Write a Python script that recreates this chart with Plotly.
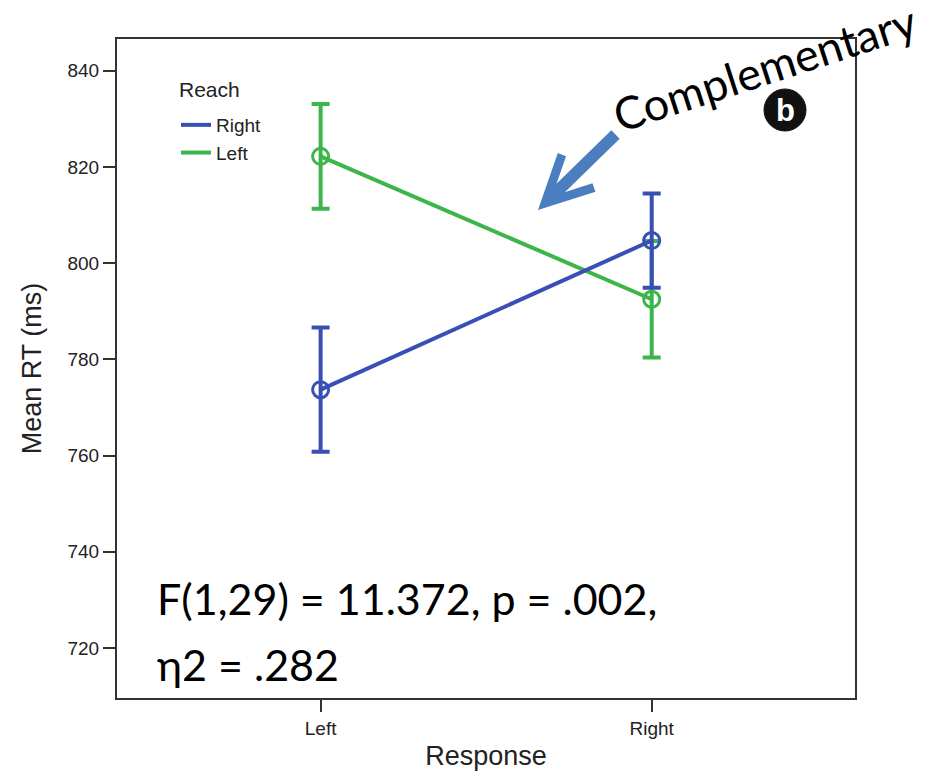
import plotly.graph_objects as go

# Response side on the x axis, reach hand as the series
responses = ["Left", "Right"]
reach_labels = ["Right", "Left"]
rt_reach_right = [773.7, 804.7]
se_reach_right = [12.9, 9.8]
rt_reach_left = [822.2, 792.5]
se_reach_left = [10.9, 12.1]
y_ticks = [720, 740, 760, 780, 800, 820, 840]

BLUE = "#3a4fb6"
GREEN = "#3cb54a"
AXIS_FONT = "Liberation Sans, Arial, sans-serif"
NOTE_FONT = "Lato, Open Sans, sans-serif"

W, H = 925, 771
L, R, T, B = 117, 70, 39, 73
PW, PH = W - L - R, H - T - B


def px(xp):
    return (xp - L) / PW


def py(yp):
    return (H - B - yp) / PH


fig = go.Figure()

series = [
    (reach_labels[1], rt_reach_left, se_reach_left, GREEN),
    (reach_labels[0], rt_reach_right, se_reach_right, BLUE),
]
# green (left reach) first so the blue series sits on top
for name, means, errs, color in series:
    fig.add_trace(go.Scatter(
        x=responses, y=means, name=name, mode="lines+markers", showlegend=False,
        line=dict(color=color, width=4),
        marker=dict(symbol="circle-open", size=16, color=color, line=dict(width=3, color=color)),
        error_y=dict(type="data", array=errs, visible=True, color=color, thickness=4, width=9),
    ))

# line-only legend keys
for name, color in [(reach_labels[0], BLUE), (reach_labels[1], GREEN)]:
    fig.add_trace(go.Scatter(x=[None], y=[None], name=name, mode="lines",
                             line=dict(color=color, width=4), showlegend=True))

axis_common = dict(
    showline=True, linecolor="#333333", linewidth=2, mirror=True,
    ticks="outside", ticklen=12, tickwidth=1.5, tickcolor="#333333",
    showgrid=False, zeroline=False, automargin=False,
    tickfont=dict(family=AXIS_FONT, size=19, color="#222222"),
)

fig.update_layout(
    width=W, height=H,
    margin=dict(l=L, r=R, t=T, b=B, pad=0, autoexpand=False),
    paper_bgcolor="white", plot_bgcolor="white",
    font=dict(family=AXIS_FONT, color="#111111"),
    xaxis=dict(
        type="category", range=[-0.615, 1.614],
        title=dict(text="Response", font=dict(family=AXIS_FONT, size=27, color="#222222"), standoff=12),
        **axis_common,
    ),
    yaxis=dict(
        range=[709.6, 846.6], tickvals=y_ticks,
        title=dict(text="Mean RT (ms)", font=dict(family=AXIS_FONT, size=27, color="#222222"), standoff=18),
        **axis_common,
    ),
    legend=dict(
        font=dict(family=AXIS_FONT, size=19, color="#222222"),
        x=px(176), y=py(106), xanchor="left", yanchor="top",
        bgcolor="rgba(0,0,0,0)", tracegroupgap=0,
    ),
    showlegend=True,
)

# legend heading
fig.add_annotation(x=px(177), y=py(89), xref="paper", yref="paper", text="Reach",
                   showarrow=False, font=dict(family=AXIS_FONT, size=21, color="#222222"),
                   xanchor="left", yanchor="middle")

# panel badge
r_badge = 21
cx, cy = 785, 110
fig.add_shape(type="circle", xref="paper", yref="paper",
              x0=px(cx - r_badge), x1=px(cx + r_badge),
              y0=py(cy + r_badge), y1=py(cy - r_badge),
              fillcolor="#111111", line=dict(color="#111111", width=1))
fig.add_annotation(x=px(cx), y=py(cy), xref="paper", yref="paper", text="<b>b</b>",
                   showarrow=False, font=dict(family=AXIS_FONT, size=31, color="white"),
                   xanchor="center", yanchor="middle")

# "Complementary" callout with arrow
fig.add_annotation(x=px(764), y=py(68), xref="paper", yref="paper", text="Complementary",
                   showarrow=False, textangle=-18,
                   font=dict(family=NOTE_FONT, size=45, color="black"),
                   xanchor="center", yanchor="middle")
fig.add_annotation(x=px(538), y=py(210), xref="paper", yref="paper", text="",
                   showarrow=True, ax=79, ay=-77, axref="pixel", ayref="pixel",
                   arrowhead=5, arrowsize=0.75, arrowwidth=12, arrowcolor="#4a7ebf", standoff=0)

# statistics
fig.add_annotation(x=px(155), y=py(598), xref="paper", yref="paper",
                   text="F(1,29) = 11.372, p = .002,", showarrow=False,
                   font=dict(family=NOTE_FONT, size=43, color="black"),
                   xanchor="left", yanchor="middle")
fig.add_annotation(x=px(155), y=py(664), xref="paper", yref="paper",
                   text="η2 = .282", showarrow=False,
                   font=dict(family=NOTE_FONT, size=43, color="black"),
                   xanchor="left", yanchor="middle")

fig.write_html("out.html")
